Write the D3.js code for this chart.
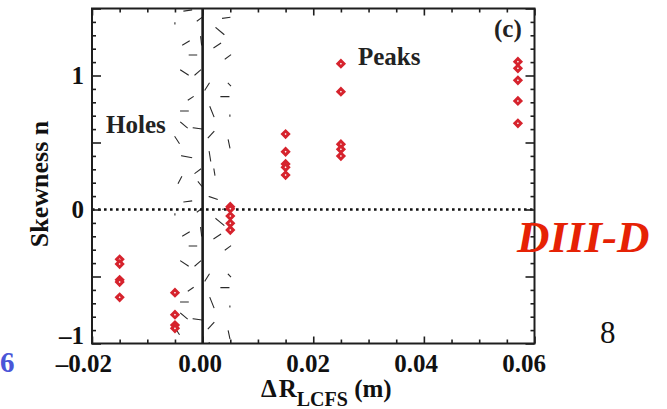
<!DOCTYPE html>
<html>
<head>
<meta charset="utf-8">
<script src="https://cdn.jsdelivr.net/npm/d3@7"></script>
<style>
  html, body { margin: 0; padding: 0; background: #fff; }
  svg { display: block; }
  svg text { font-family: "Liberation Serif", "DejaVu Serif", serif !important; }
</style>
</head>
<body>
<svg id="chart" width="667" height="409" font-family="Liberation Serif, DejaVu Serif, serif"></svg>
<script>
// Radial probe positions relative to the last closed flux surface (m)
const positions = [-0.015, -0.005, 0.005, 0.015, 0.025, 0.057];

// Skewness samples recorded at each position
const skewAtM015 = [-0.372, -0.407, -0.525, -0.541, -0.655];
const skewAtM005 = [-0.621, -0.785, -0.862, -0.887];
const skewAtP005 = [0.021, 0.006, -0.049, -0.103, -0.153];
const skewAtP015 = [0.563, 0.431, 0.340, 0.315, 0.257];
const skewAtP025 = [1.088, 0.879, 0.487, 0.449, 0.399];
const skewAtP057 = [1.103, 1.054, 0.964, 0.810, 0.643];
const skewness = [skewAtM015, skewAtM005, skewAtP005, skewAtP015, skewAtP025, skewAtP057];

// Axis ranges and ticks
const xDomain = [-0.02, 0.06];
const yDomain = [-1, 1.5];
const xTickValues = [-0.02, 0.00, 0.02, 0.04, 0.06];
const yTickValues = [-1, -0.5, 0, 0.5, 1, 1.5];
const yLabelled = [-1, 0, 1];

// Separatrix uncertainty band: one repeat of the short-dash fill, [x1, y1, x2, y2]
const hatchTile = [
  [-0.00338, 1.481, -0.00199, 1.489],
  [-0.00501, 1.393, -0.00501, 1.385],
  [-0.00098, 1.407,  0.00000, 1.437],
  [ 0.00361, 1.427,  0.00493, 1.434],
  [ 0.00240, 1.357,  0.00385, 1.307],
  [-0.00361, 1.228, -0.00242, 1.257],
  [-0.00036, 1.290, -0.00018, 1.228],
  [ 0.00204, 1.207,  0.00325, 1.240],
  [-0.00242, 1.153, -0.00108, 1.153],
  [ 0.00408, 1.123,  0.00506, 1.153],
  [-0.00398, 1.041, -0.00260, 1.004],
  [-0.00139, 1.004, -0.00036, 1.041],
  [ 0.00042, 0.892,  0.00119, 0.942],
  [ 0.00463, 0.942,  0.00506, 0.924],
  [-0.00260, 0.817, -0.00170, 0.842],
  [ 0.00331, 0.842,  0.00475, 0.842],
  [-0.00398, 0.735, -0.00260, 0.735],
  [ 0.00132, 0.767,  0.00204, 0.693],
  [ 0.00493, 0.705,  0.00493, 0.697],
  [-0.00398, 0.651, -0.00278, 0.610],
  [-0.00170, 0.610, -0.00018, 0.601],
  [ 0.00101, 0.536,  0.00204, 0.581],
  [-0.00501, 0.543, -0.00423, 0.494],
  [ 0.00463, 0.519,  0.00493, 0.461],
  [-0.00379, 0.401, -0.00199, 0.387],
  [ 0.00119, 0.431,  0.00145, 0.362],
  [-0.00139, 0.270, -0.00036, 0.302],
  [ 0.00204, 0.302,  0.00222, 0.257],
  [-0.00441, 0.196, -0.00379, 0.245],
  [-0.00080, 0.207, -0.00018, 0.175],
  [ 0.00119, 0.096,  0.00264, 0.076]
];
const hatchPeriod = 1.425;      // vertical repeat of the fill, in skewness units
const hatchRepeats = [0, 1];

const FONT = "Liberation Serif, DejaVu Serif, serif";
const margin = { top: 8.5, right: 132.5, bottom: 65.5, left: 92 };
const W = 667, H = 409;
const width = W - margin.left - margin.right;
const height = H - margin.top - margin.bottom;

const svg = d3.select("#chart");
svg.append("rect").attr("width", W).attr("height", H).attr("fill", "#fff");

const g = svg.append("g").attr("transform", `translate(${margin.left},${margin.top})`);

const x = d3.scaleLinear().domain(xDomain).range([0, width]);
const y = d3.scaleLinear().domain(yDomain).range([height, 0]);
// tick labels sit on a slightly compressed spacing
const xLabel = d3.scaleLinear().domain(xDomain).range([-0.5, width - 11]);

svg.append("defs").append("clipPath").attr("id", "plotClip")
  .append("rect").attr("width", width).attr("height", height);

const minus = s => s.replace("-", "\u2013").replace("\u2212", "\u2013");

// dashed uncertainty band
const hatchData = [];
hatchRepeats.forEach(k => hatchTile.forEach(s => hatchData.push([s[0], s[1] - k * hatchPeriod, s[2], s[3] - k * hatchPeriod])));
g.append("g").attr("clip-path", "url(#plotClip)")
  .selectAll("line").data(hatchData).join("line")
  .attr("x1", d => x(d[0])).attr("y1", d => y(d[1]))
  .attr("x2", d => x(d[2])).attr("y2", d => y(d[3]))
  .attr("stroke", "#2a2a2a").attr("stroke-width", 1.1).attr("stroke-linecap", "square");

// zero skewness reference
g.append("line")
  .attr("x1", 0).attr("x2", width).attr("y1", y(0)).attr("y2", y(0))
  .attr("stroke", "#111").attr("stroke-width", 2.6).attr("stroke-dasharray", "2.6,3.4");

// separatrix
g.append("line")
  .attr("x1", x(0)).attr("x2", x(0)).attr("y1", 0).attr("y2", height)
  .attr("stroke", "#1a1a1a").attr("stroke-width", 2.6);

// measurements
const points = [];
positions.forEach((p, i) => skewness[i].forEach(v => points.push([p, v])));
const diamond = d3.symbol(d3.symbolSquare, 19);
g.append("g").selectAll("path").data(points).join("path")
  .attr("d", diamond)
  .attr("transform", d => `translate(${x(d[0])},${y(d[1])}) rotate(45)`)
  .attr("fill", "#fff").attr("stroke", "#d6232d").attr("stroke-width", 2.9);

// ---- axes ----
const axisColor = "#1e1e1e";
function styleAxis(sel) {
  sel.attr("font-family", FONT).attr("font-size", 25);
  sel.select(".domain").remove();
  sel.selectAll(".tick line").attr("stroke", axisColor).attr("stroke-width", 1.6);
  sel.selectAll("text").attr("fill", "#111").attr("font-weight", "bold")
    .attr("font-family", FONT).attr("font-size", 25);
}
const xMinor = x.ticks(16).filter(v => !xTickValues.some(t => Math.abs(t - v) < 1e-9));
const yMinor = y.ticks(25).filter(v => !yTickValues.some(t => Math.abs(t - v) < 1e-9));

// bottom
g.append("g").attr("transform", `translate(0,${height})`)
  .call(d3.axisBottom(x).tickValues(xTickValues).tickSize(-7).tickFormat("")).call(styleAxis);
g.append("g").attr("transform", `translate(0,${height})`)
  .call(d3.axisBottom(x).tickValues(xMinor).tickSize(-4).tickFormat("")).call(styleAxis);
g.append("g").attr("transform", `translate(0,${height})`)
  .call(d3.axisBottom(xLabel).tickValues(xTickValues).tickSize(0).tickPadding(10.5)
    .tickFormat(d => minus(d3.format(".2f")(d))))
  .call(styleAxis)
  .call(a => a.selectAll("text").attr("dx", d => d < 0 ? "-0.33em" : 0));
// top
g.append("g")
  .call(d3.axisTop(x).tickValues(xTickValues).tickSize(-7).tickFormat("")).call(styleAxis);
g.append("g")
  .call(d3.axisTop(x).tickValues(xMinor).tickSize(-4).tickFormat("")).call(styleAxis);
// left
g.append("g")
  .call(d3.axisLeft(y).tickValues(yTickValues).tickSize(-9).tickPadding(8)
    .tickFormat(d => yLabelled.includes(d) ? minus(d3.format("d")(d)) : ""))
  .call(styleAxis)
  .call(a => a.selectAll("text").attr("dy", d => d === yDomain[0] ? "-0.02em" : "0.32em"));
g.append("g")
  .call(d3.axisLeft(y).tickValues(yMinor).tickSize(-4).tickFormat("")).call(styleAxis);
// right
g.append("g").attr("transform", `translate(${width},0)`)
  .call(d3.axisRight(y).tickValues(yTickValues).tickSize(-9).tickFormat("")).call(styleAxis);
g.append("g").attr("transform", `translate(${width},0)`)
  .call(d3.axisRight(y).tickValues(yMinor).tickSize(-4).tickFormat("")).call(styleAxis);

// frame
g.append("rect").attr("width", width).attr("height", height)
  .attr("fill", "none").attr("stroke", axisColor).attr("stroke-width", 2);

// ---- titles and annotations ----
function label(sel) { return sel.attr("font-family", FONT); }

svg.append("text").call(label)
  .attr("transform", `translate(48,${margin.top + 175.5}) rotate(-90)`)
  .attr("text-anchor", "middle").attr("font-weight", "bold").attr("font-size", 26).attr("fill", "#111")
  .text("Skewness n");

const xt = svg.append("text").call(label).attr("x", 261).attr("y", 396.5)
  .attr("font-weight", "bold").attr("font-size", 25).attr("fill", "#111");
xt.append("tspan").text("\u0394");
xt.append("tspan").attr("dx", 2).text("R");
xt.append("tspan").attr("dy", 9).attr("font-size", 20).text("LCFS");
xt.append("tspan").attr("dy", -9).text(" (m)");

svg.append("text").call(label).attr("x", 106).attr("y", 133)
  .attr("font-weight", "bold").attr("font-size", 25).attr("fill", "#222").text("Holes");
svg.append("text").call(label).attr("x", 358).attr("y", 65)
  .attr("font-weight", "bold").attr("font-size", 25).attr("fill", "#222").text("Peaks");
svg.append("text").call(label).attr("x", 494).attr("y", 37)
  .attr("font-weight", "bold").attr("font-size", 25).attr("fill", "#222").text("(c)");

svg.append("text").call(label).attr("x", 517).attr("y", 251.5)
  .attr("font-weight", "bold").attr("font-style", "italic").attr("font-size", 45)
  .attr("fill", "#e62205").text("DIII-D");

svg.append("text").call(label).attr("x", 600).attr("y", 343)
  .attr("font-size", 31).attr("fill", "#111").text("8");

svg.append("text").call(label).attr("x", 0).attr("y", 371.5)
  .attr("font-weight", "bold").attr("font-size", 29).attr("fill", "#4a56d8").text("6");
</script>
</body>
</html>
